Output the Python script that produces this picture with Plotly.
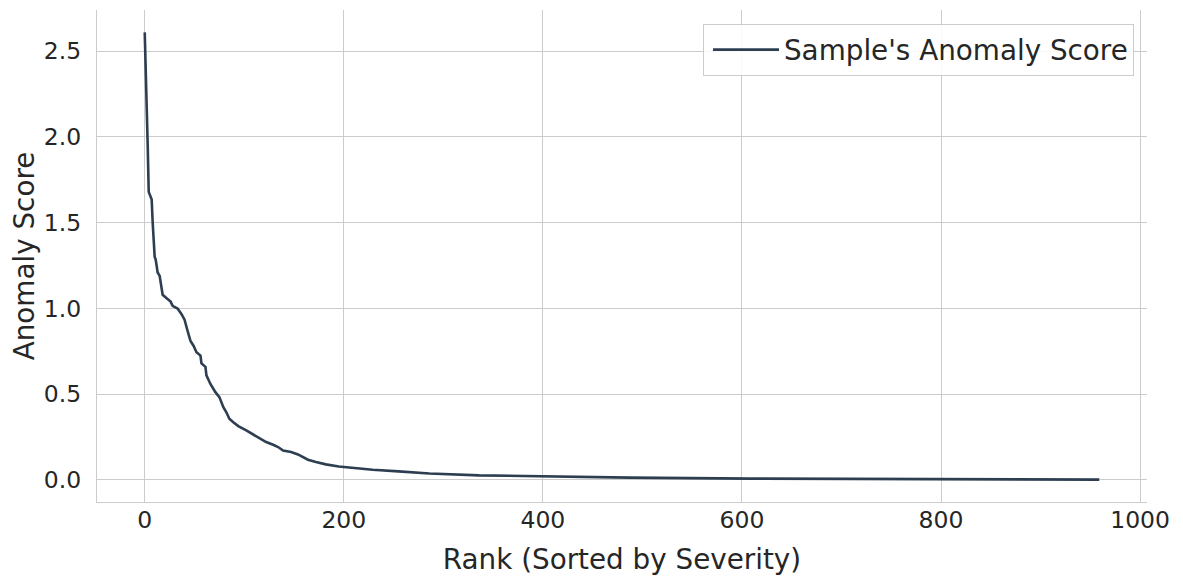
import plotly.graph_objects as go

# Ranks (sorted by severity) and anomaly scores
ranks = [0, 1, 2, 3, 4, 5, 7, 8, 9, 10, 11, 13, 15, 18, 22, 26, 28, 33, 37, 40,
         43, 46, 49, 52, 56, 57, 61, 62, 66, 71, 75, 79, 82, 85, 89, 94, 102, 109,
         116, 122, 129, 134, 139, 147, 154, 159, 164, 172, 182, 195, 209, 229,
         255, 286, 336, 400, 487, 608, 700, 800, 900, 959]
scores = [2.61, 2.42, 2.22, 1.95, 1.68, 1.66, 1.635, 1.50, 1.37, 1.30, 1.285,
          1.21, 1.19, 1.08, 1.06, 1.04, 1.015, 1.00, 0.967, 0.935, 0.87, 0.81,
          0.783, 0.745, 0.725, 0.68, 0.66, 0.61, 0.56, 0.512, 0.483, 0.424, 0.395,
          0.357, 0.337, 0.314, 0.289, 0.264, 0.240, 0.221, 0.205, 0.192, 0.172,
          0.163, 0.149, 0.134, 0.118, 0.105, 0.091, 0.079, 0.070, 0.060, 0.050,
          0.038, 0.027, 0.020, 0.014, 0.008, 0.006, 0.004, 0.003, 0.002]
series_name = "Sample's Anomaly Score"
x_ticks = [0, 200, 400, 600, 800, 1000]
y_ticks = [0.0, 0.5, 1.0, 1.5, 2.0, 2.5]
y_tick_labels = ["0.0", "0.5", "1.0", "1.5", "2.0", "2.5"]

FONT = "DejaVu Sans"
TXT = "#262626"
GRID = "#cccccc"

xmin, xmax = min(ranks), max(ranks)
ymin, ymax = min(scores), max(scores)
xpad = 0.05 * (xmax - xmin)
ypad = 0.05 * (ymax - ymin)

fig = go.Figure()
fig.add_trace(go.Scatter(
    x=ranks, y=scores, mode="lines", name=series_name,
    line=dict(color="#2c3e50", width=2.6),
))

# page body has an 8px margin, so the figure is sized/margined to compensate
fig.update_layout(
    width=1175, height=576,
    margin=dict(l=89, r=36, t=2, b=82),
    paper_bgcolor="white", plot_bgcolor="white",
    font=dict(family=FONT, color=TXT, size=23.5),
    showlegend=True,
    legend=dict(
        x=0.9876, y=0.9715, xanchor="right", yanchor="top",
        bgcolor="rgba(255,255,255,0.85)", bordercolor=GRID, borderwidth=1,
        font=dict(family=FONT, size=27.8, color=TXT),
        itemwidth=66, indentation=4,
    ),
    xaxis=dict(
        range=[xmin - xpad, xmax + xpad],
        tickvals=x_ticks, ticktext=[str(v) for v in x_ticks],
        showgrid=True, gridcolor=GRID, gridwidth=1.2,
        zeroline=False,
        showline=True, linecolor=GRID, linewidth=1.4, mirror=False,
        ticks="", ticklabelstandoff=-3,
        tickfont=dict(family=FONT, size=23.5, color=TXT),
        title=dict(text="Rank (Sorted by Severity)",
                   font=dict(family=FONT, size=27.8, color=TXT), standoff=16),
        automargin=False,
    ),
    yaxis=dict(
        range=[ymin - ypad, ymax + ypad],
        tickvals=y_ticks, ticktext=y_tick_labels,
        showgrid=True, gridcolor=GRID, gridwidth=1.2,
        zeroline=False,
        showline=True, linecolor=GRID, linewidth=1.4, mirror=False,
        ticks="", ticklabelstandoff=10,
        tickfont=dict(family=FONT, size=23.5, color=TXT),
        title=dict(text="Anomaly Score",
                   font=dict(family=FONT, size=27.8, color=TXT), standoff=2),
        automargin=False,
    ),
)

fig.write_html("out.html")
